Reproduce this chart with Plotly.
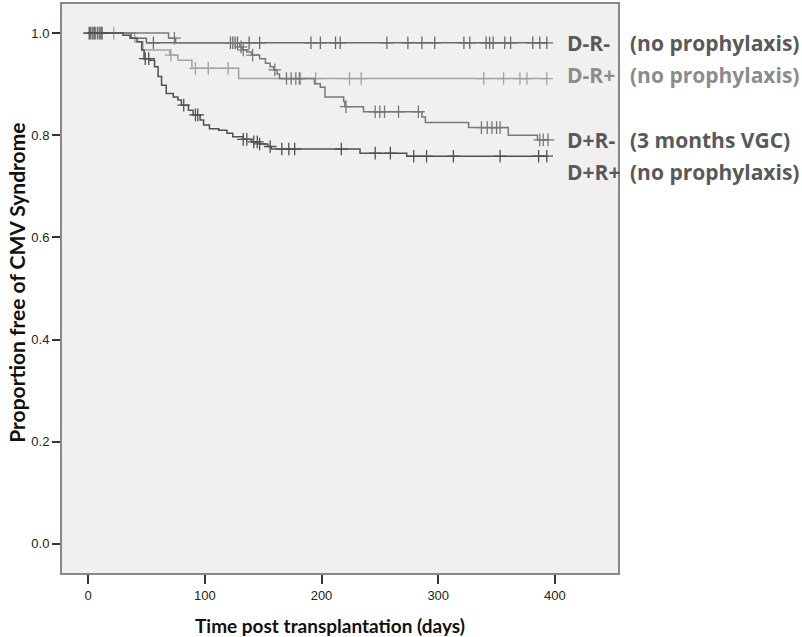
import numpy as np
import plotly.graph_objects as go

END_DAY = 394

# D-R- (no prophylaxis)
drn_times = [0, 37, 50]
drn_surv = [1.0, 0.99, 0.981]
drn_cens = [2, 5, 8, 11, 56, 122, 124, 126, 128, 138, 147, 191, 199, 212, 216, 256, 274,
            286, 297, 322, 327, 341, 344, 347, 357, 362, 381, 387, 393]

# D-R+ (no prophylaxis)
drp_times = [0, 40, 47, 70, 77, 89, 129]
drp_surv = [1.0, 0.983, 0.967, 0.957, 0.947, 0.931, 0.911]
drp_cens = [3, 9, 22, 71, 92, 103, 120, 182, 195, 224, 234, 339, 356, 370, 376, 393]

# D+R- (3 months VGC)
dpn_times = [0, 69, 75, 130, 132, 136, 140, 147, 152, 156, 159, 162, 164, 194, 199, 203,
             219, 220, 236, 286, 289, 326, 360, 385]
dpn_surv = [1.0, 0.99, 0.981, 0.973, 0.967, 0.963, 0.957, 0.950, 0.941, 0.934, 0.928, 0.920,
            0.911, 0.901, 0.894, 0.875, 0.866, 0.856, 0.846, 0.836, 0.825, 0.815, 0.800, 0.791]
dpn_cens = [4, 10, 74, 131, 133, 141, 160, 170, 174, 178, 181, 221, 246, 250, 254, 266, 283,
            337, 342, 346, 350, 353, 387, 390, 394]

# D+R+ (no prophylaxis)
dpp_times = [0, 30, 36, 42, 46, 48, 53, 57, 60, 63, 67, 73, 77, 80, 86, 90, 96, 99, 104, 112,
             119, 124, 133, 140, 147, 154, 157, 233, 273]
dpp_surv = [1.0, 0.996, 0.990, 0.983, 0.967, 0.950, 0.947, 0.934, 0.915, 0.898, 0.882, 0.875,
            0.869, 0.859, 0.849, 0.840, 0.830, 0.820, 0.813, 0.810, 0.804, 0.797, 0.792, 0.787,
            0.783, 0.778, 0.773, 0.765, 0.759]
dpp_cens = [1, 6, 12, 49, 52, 82, 92, 94, 133, 136, 142, 145, 147, 156, 166, 172, 177, 217,
            246, 259, 279, 290, 313, 353, 386, 393]

x_ticks = [0, 100, 200, 300, 400]
y_ticks = [0.0, 0.2, 0.4, 0.6, 0.8, 1.0]

groups = [
    ("D-R-", drn_times, drn_surv, drn_cens, "#6a6a6a"),
    ("D-R+", drp_times, drp_surv, drp_cens, "#a2a2a2"),
    ("D+R-", dpn_times, dpn_surv, dpn_cens, "#787878"),
    ("D+R+", dpp_times, dpp_surv, dpp_cens, "#505050"),
]

fig = go.Figure()
for name, t, s, c, col in groups:
    xs = list(t) + [END_DAY]
    ys = list(s) + [s[-1]]
    fig.add_trace(go.Scatter(x=xs, y=ys, mode="lines", line=dict(color=col, width=1.5, shape="hv"),
                             name=name, showlegend=False, hoverinfo="skip"))
    ta = np.array(t)
    sa = np.array(s)
    idx = np.searchsorted(ta, np.array(c), side="right") - 1
    fig.add_trace(go.Scatter(x=c, y=sa[idx], mode="markers",
                             marker=dict(symbol="cross-thin", size=9, line=dict(color=col, width=1.3)),
                             showlegend=False, hoverinfo="skip"))

lab_font = "'Open Sans', Lato, sans-serif"
title_font = "Lato, 'Open Sans', sans-serif"
dark = "#595959"
light = "#8c8c8c"
labels = [
    ("D-R-", "(no prophylaxis)", 0.931, dark),
    ("D-R+", "(no prophylaxis)", 0.875, light),
    ("D+R-", "(3 months VGC)", 0.761, dark),
    ("D+R+", "(no prophylaxis)", 0.705, dark),
]
anns = []
for a, b, yy, col in labels:
    anns.append(dict(text=f"<b>{a}</b>", x=0.905, y=yy, xref="paper", yref="paper", xanchor="left",
                     yanchor="middle", showarrow=False, font=dict(family=lab_font, size=21, color=col)))
    anns.append(dict(text=f"<b>{b}</b>", x=1.018, y=yy, xref="paper", yref="paper", xanchor="left",
                     yanchor="middle", showarrow=False, font=dict(family=lab_font, size=21, color=col)))

anns.append(dict(text="<b>Time post transplantation (days)</b>", x=0.482, y=-0.0914,
                 xref="paper", yref="paper", xanchor="center", yanchor="middle", showarrow=False,
                 font=dict(family=title_font, size=19, color="#111")))
anns.append(dict(text="<b>Proportion free of CMV Syndrome</b>", x=-0.081, y=0.51, textangle=-90,
                 xref="paper", yref="paper", xanchor="center", yanchor="middle", showarrow=False,
                 font=dict(family=title_font, size=21, color="#111")))

fig.update_layout(
    width=802, height=637,
    margin=dict(l=62, r=184, t=4, b=64, autoexpand=False),
    paper_bgcolor="white", plot_bgcolor="#f0f0f0",
    annotations=anns,
    font=dict(family="Arial, 'Liberation Sans', sans-serif", size=13, color="#222"),
)
fig.update_xaxes(range=[-22.3, 454], tickvals=x_ticks, ticktext=[str(v) for v in x_ticks],
                 ticks="outside", ticklen=9, tickwidth=1.5, tickcolor="#333",
                 showline=True, mirror=True, linecolor="#888888", linewidth=2,
                 showgrid=False, zeroline=False, automargin=False)
fig.update_yaxes(range=[-0.057, 1.057], tickvals=y_ticks, ticktext=[f"{v:.1f}" for v in y_ticks],
                 ticks="outside", ticklen=8, tickwidth=1.5, tickcolor="#333",
                 showline=True, mirror=True, linecolor="#888888", linewidth=2,
                 showgrid=False, zeroline=False, automargin=False)

fig.write_html("out.html", config={"displayModeBar": False},
               post_script="document.body.style.margin='0';")
